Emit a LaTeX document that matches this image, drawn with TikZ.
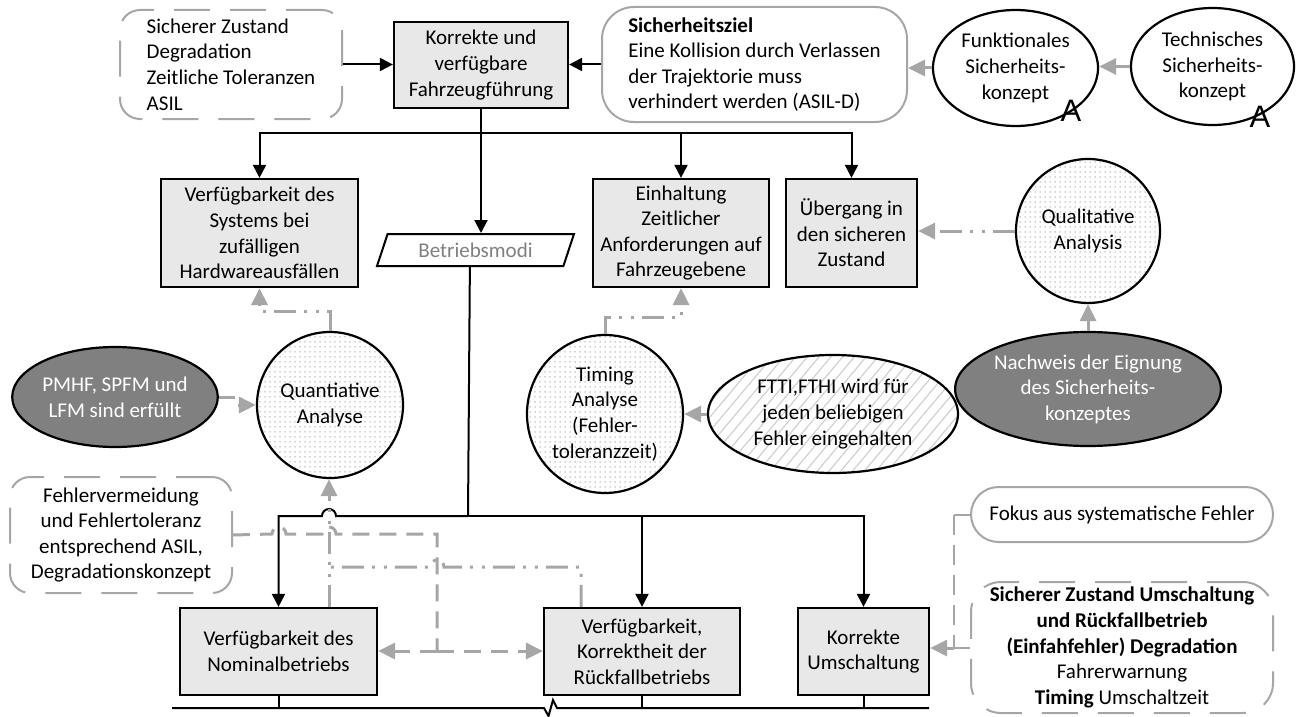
\documentclass[tikz,border=0pt]{standalone}
\usepackage{fontspec}
\setmainfont{Carlito}
\newfontfamily\arialfont{Liberation Sans}
\usetikzlibrary{arrows.meta,shapes.geometric,shapes.misc,patterns.meta}

\definecolor{boxfill}{HTML}{E8E8E8}
\definecolor{linegray}{HTML}{A6A6A6}
\definecolor{darkfill}{HTML}{808080}
\definecolor{dotcolor}{HTML}{A8A8A8}
\definecolor{hatchcolor}{HTML}{D0D0D0}
\definecolor{textgray}{HTML}{808080}

\tikzset{
  every node/.style={font=\fontsize{21}{25.6}\selectfont, inner sep=0pt, align=center},
  % black flow lines
  bk/.style={draw=black, line width=2pt},
  barrow/.style={bk, -{Triangle[length=13pt,width=13pt]}},
  % grey relations
  gcon/.style={draw=linegray, line width=3pt},
  garrow/.style={gcon, -{Triangle[length=17pt,width=16pt]}},
  gdash/.style={dash pattern=on 17pt off 10pt},
  gdd/.style={dash pattern=on 22pt off 8pt on 3pt off 9pt on 3pt off 8pt},
  % node shapes
  box/.style={rectangle, draw=black, line width=2.2pt, fill=boxfill},
  gbox/.style={rectangle, draw=linegray, line width=2pt, fill=white},
  dbox/.style={rectangle, draw=linegray, line width=2pt, dash pattern=on 36pt off 20pt, rounded corners=20pt},
  circ/.style={ellipse, draw=black, line width=2.2pt, pattern={Dots[distance=5pt,radius=0.75pt]}, pattern color=dotcolor},
  oval/.style={ellipse, draw=black, line width=2.2pt, fill=white},
  darkoval/.style={ellipse, draw=black, line width=2.2pt, fill=darkfill, text=white},
  hatchoval/.style={ellipse, draw=black, line width=2.2pt, pattern={Lines[angle=50,distance=9pt,line width=1.2pt]}, pattern color=hatchcolor},
  letterA/.style={font=\arialfont\fontsize{31}{32}\selectfont},
}

\begin{document}
\begin{tikzpicture}[x=1pt,y=-1pt]
\useasboundingbox (0,0) rectangle (1296,717);

% ---- top row ----
\node[dbox, minimum width=222pt, minimum height=109pt, align=left] (sz) at (231,64.5)
  {Sicherer Zustand\\Degradation\\Zeitliche Toleranzen\\ASIL};
\node[box, minimum width=174pt, minimum height=86pt] (kf) at (481,65)
  {Korrekte und\\verfügbare\\Fahrzeugführung};
\node[gbox, rounded corners=32pt, minimum width=305pt, minimum height=115pt, align=left] (sziel) at (754.5,64.5)
  {\textbf{Sicherheitsziel}\\Eine Kollision durch Verlassen\\der Trajektorie muss\\verhindert werden (ASIL-D)};
\node[oval, minimum width=165pt, minimum height=116pt] (fsk) at (1015.5,68)
  {Funktionales\\Sicherheits-\\konzept};
\node[oval, minimum width=163pt, minimum height=117pt] (tsk) at (1212.5,66.5)
  {Technisches\\Sicherheits-\\konzept};
\node[letterA] (fa) at (1071,111) {A};
\node[letterA] (ta) at (1260,117) {A};

\draw[barrow] (sz.east) -- (kf.west |- sz.east);
\draw[barrow] (sziel.west) -- (kf.east |- sziel.west);
\draw[garrow] (fsk.west) -- (sziel.east |- fsk.west);
\draw[garrow] (tsk.west) -- (fsk.east |- tsk.west);

% ---- second row ----
\node[box, minimum width=197pt, minimum height=108pt] (vs) at (259.5,233)
  {Verfügbarkeit des\\Systems bei\\zufälligen\\Hardwareausfällen};
\node[trapezium, trapezium left angle=65, trapezium right angle=115, trapezium stretches=true,
      draw=black, line width=2pt, fill=white, minimum width=197pt, minimum height=32pt, text=textgray]
  (bm) at (475.5,250) {Betriebsmodi};
\node[box, minimum width=176pt, minimum height=108pt] (ein) at (681,233)
  {Einhaltung\\Zeitlicher\\Anforderungen auf\\Fahrzeugebene};
\node[box, minimum width=131pt, minimum height=108pt] (ub) at (851.5,233)
  {Übergang in\\den sicheren\\Zustand};
\node[circ, minimum width=144pt, minimum height=144pt] (qa) at (1088,231)
  {Qualitative\\Analysis};

\coordinate (tbus) at (481,133);
\draw[barrow] (kf.south) -- (kf.south |- bm.top side);
\draw[barrow] (tbus) -| (vs.north);
\draw[barrow] (tbus) -| (ein.north);
\draw[barrow] (tbus) -| (ub.north);
\draw[garrow, gdd] (qa.west) -- (ub.east |- qa.west);

% ---- analysis row ----
\node[darkoval, minimum width=200pt, minimum height=100pt] (pmhf) at (115,397)
  {PMHF, SPFM und\\LFM sind erfüllt};
\node[circ, minimum width=146pt, minimum height=146pt] (quant) at (330,405)
  {Quantiative\\Analyse};
\node[circ, minimum width=156pt, minimum height=158pt] (tim) at (605,414)
  {Timing\\Analyse\\(Fehler-\\toleranzzeit)};
\node[hatchoval, minimum width=250pt, minimum height=118pt] (ftti) at (833,414)
  {FTTI,FTHI wird für\\jeden beliebigen\\Fehler eingehalten};
\node[darkoval, minimum width=248pt, minimum height=114pt] (nach) at (1088,389)
  {Nachweis der Eignung\\des Sicherheits-\\konzeptes};

\draw[garrow, gdash] (pmhf.east) -- ++(15,0) |- (quant.west);
\draw[garrow, gdd] (quant.north) -- ++(0,-19) -| (vs.south);
\draw[garrow, gdd] (tim.north) -- ++(0,-16) -| (ein.south);
\draw[garrow] (ftti.west) -- (tim.east |- ftti.west);
\draw[garrow] (nach.north) -- (qa.south);

% ---- operating modes ----
\node[dbox, minimum width=222pt, minimum height=116pt] (fv) at (121,535)
  {Fehlervermeidung\\und Fehlertoleranz\\entsprechend ASIL,\\Degradationskonzept};
\node[box, minimum width=197pt, minimum height=87pt] (nom) at (278.5,651.5)
  {Verfügbarkeit des\\Nominalbetriebs};
\node[box, minimum width=196pt, minimum height=87pt] (rf) at (642,651.5)
  {Verfügbarkeit,\\Korrektheit der\\Rückfallbetriebs};
\node[box, minimum width=131pt, minimum height=87pt] (ku) at (863.5,651.5)
  {Korrekte\\Umschaltung};
\node[rounded rectangle, draw=linegray, line width=2pt, minimum width=302pt, minimum height=55pt] (fokus) at (1122,514.5)
  {Fokus aus systematische Fehler};
\node[dbox, rounded corners=30pt, minimum width=302pt, minimum height=131pt] (szu) at (1122,647.5)
  {\textbf{Sicherer Zustand Umschaltung}\\\textbf{und Rückfallbetrieb}\\\textbf{(Einfahfehler) Degradation}\\Fahrerwarnung\\\textbf{Timing} Umschaltzeit};

% mode bus with a hop over the grey riser
\coordinate (bus) at (468,516);
\draw[bk] (bm.bottom side) -- (bus);
\draw[barrow] (bus) -- (336,516) arc[start angle=0,end angle=-180,radius=7] -- (nom.north |- bus) -- (nom.north);
\draw[barrow] (bus) -| (rf.north);
\draw[barrow] (bus) -| (ku.north);

% fault avoidance feeds both modes
\coordinate (jt) at (437,534);
\coordinate (jn) at (437,651);
\draw[gcon, gdash] (fv.east) -- (272,534) arc[start angle=180,end angle=360,radius=7]
  -- (322,534) arc[start angle=180,end angle=360,radius=7] -- (jt) -- (jn);
\draw[garrow, gdash] (jn) -- (nom.east |- jn);
\draw[garrow, gdash] (jn) -- (rf.west |- jn);

% both modes feed the quantitative analysis
\coordinate (rq) at (581,567);
\coordinate (nq) at (329,567);
\draw[gcon, gdd] (rf.north -| rq) -- (rq) -- (444,567) arc[start angle=0,end angle=-180,radius=7] -- (nq);
\draw[garrow, gdd] (nom.north -| nq) -- (quant.south -| nq);

% switching requirements bracket
\coordinate (bk1) at (954,514.5);
\coordinate (bk2) at (954,648);
\draw[draw=linegray, line width=2pt] (fokus.west) -- (bk1);
\draw[draw=linegray, line width=2pt, dash pattern=on 20pt off 10pt] (bk1) -- (bk2);
\draw[draw=linegray, line width=2pt] (bk2) -- (szu.west |- bk2);
\draw[garrow] (bk2) -- (ku.east |- bk2);

% bottom baseline with break mark
\coordinate (bl) at (172,708);
\coordinate (br) at (929,708);
\draw[bk] (bl) -- (544,708) -- (548.5,716) -- (553,700) -- (557,708) -- (br);
\draw[bk] (nom.south) -- (nom.south |- bl);
\draw[bk] (rf.south) -- (rf.south |- bl);
\draw[bk] (ku.south) -- (ku.south |- bl);
\end{tikzpicture}
\end{document}
